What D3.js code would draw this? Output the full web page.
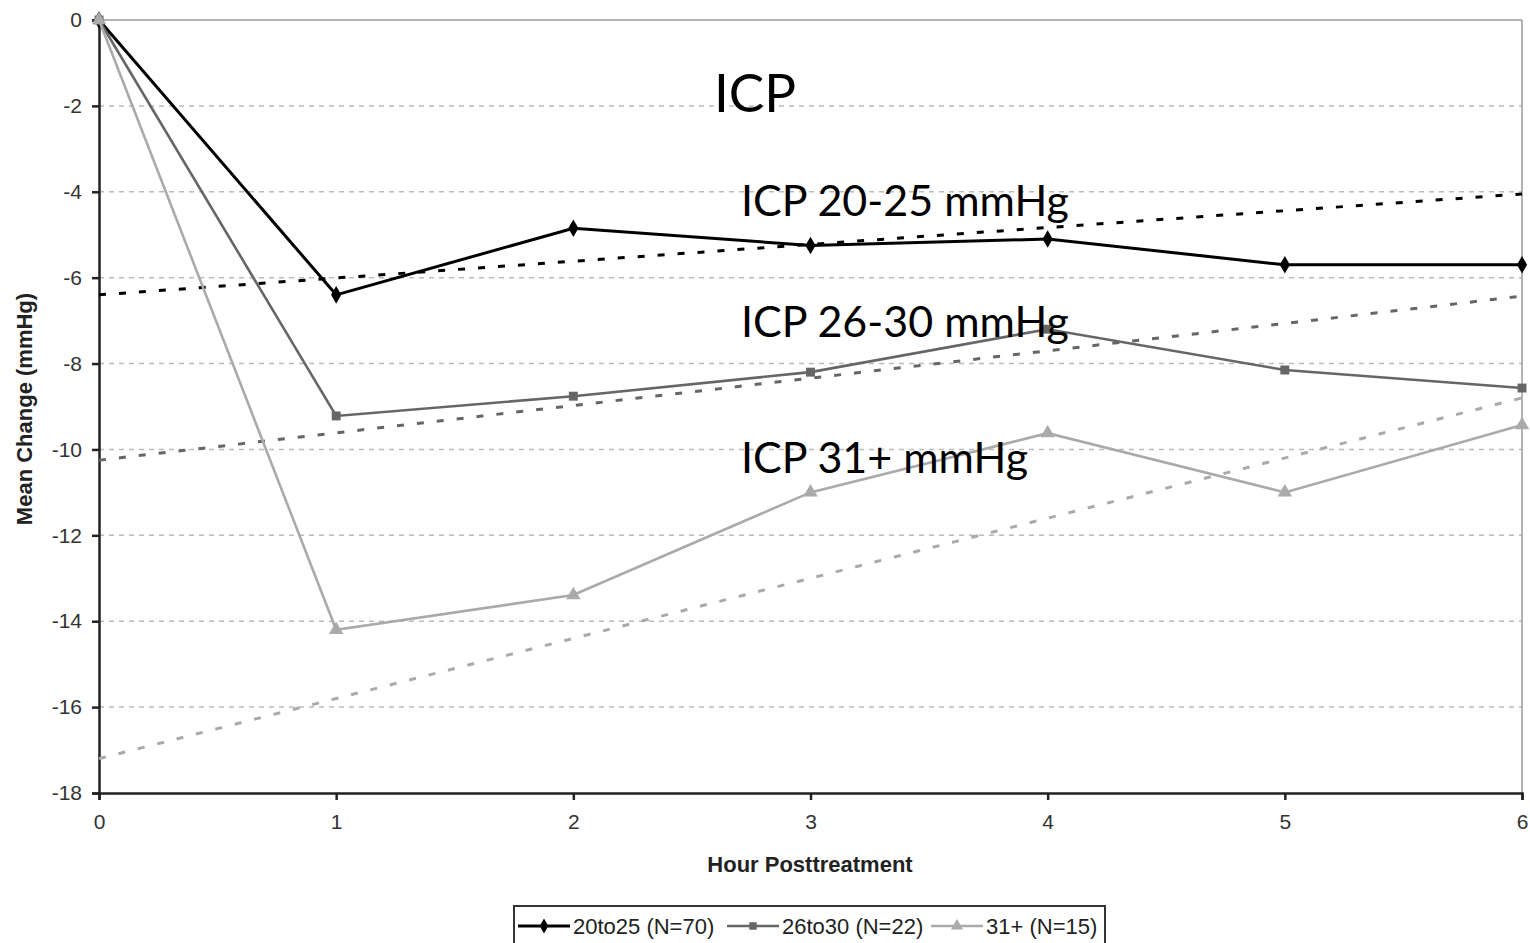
<!DOCTYPE html>
<head>
  <meta charset="utf-8">
  <script src="https://d3js.org/d3.v7.min.js"></script>
  <style>
body { margin: 0; background: #fff; }
.tick text { font-family: Arial, "Liberation Sans", sans-serif; font-size: 21px; fill: #333; }
.axis-title { font-family: Arial, "Liberation Sans", sans-serif; font-size: 22px; font-weight: 700; fill: #222; }
.note { font-family: Lato, "Open Sans", sans-serif; fill: #000; }
.legend text { font-family: Arial, "Liberation Sans", sans-serif; font-size: 22px; fill: #222; }
  </style>
</head>
<body>
<script>
// data
var hours = [0, 1, 2, 3, 4, 5, 6];
var yTicks = [0, -2, -4, -6, -8, -10, -12, -14, -16, -18];
var icp20to25 = [0, -6.4, -4.85, -5.25, -5.1, -5.7, -5.7];
var icp26to30 = [0, -9.22, -8.76, -8.2, -7.2, -8.15, -8.57];
var icp31plus = [0, -14.2, -13.39, -11.0, -9.62, -11.0, -9.43];
// linear trend lines, value at hour 0 and hour 6
var trendHours = [0, 6];
var trend20to25 = [-6.4, -4.05];
var trend26to30 = [-10.25, -6.43];
var trend31plus = [-17.2, -8.8];
var seriesNames = ["20to25 (N=70)", "26to30 (N=22)", "31+ (N=15)"];

var series = [
  {name: seriesNames[0], values: icp20to25, trend: trend20to25, color: "#000", width: 3, shape: d3.symbolDiamond, size: 90},
  {name: seriesNames[1], values: icp26to30, trend: trend26to30, color: "#666", width: 2.6, shape: d3.symbolSquare, size: 80},
  {name: seriesNames[2], values: icp31plus, trend: trend31plus, color: "#aaa", width: 2.6, shape: d3.symbolTriangle, size: 90}
];

var svg = d3.select("body").append("svg")
  .attr("width", 1530)
  .attr("height", 943);

var x = d3.scaleLinear().domain([0, 6]).range([99, 1522]);
var y = d3.scaleLinear().domain([-18, 0]).range([793, 20]);

// gridlines
svg.append("g").selectAll("line")
  .data(yTicks.filter(function(d) { return d < 0 && d > -18; }))
  .enter().append("line")
  .attr("x1", x(0)).attr("x2", x(6))
  .attr("y1", d => y(d)).attr("y2", d => y(d))
  .attr("stroke", "#bbb")
  .attr("stroke-width", 1.5)
  .attr("stroke-dasharray", "5,5");

// top and right frame
svg.append("line").attr("x1", x(0)).attr("x2", x(6)).attr("y1", y(0)).attr("y2", y(0))
  .attr("stroke", "#999").attr("stroke-width", 1.5);
svg.append("line").attr("x1", x(6)).attr("x2", x(6)).attr("y1", y(0)).attr("y2", y(-18))
  .attr("stroke", "#999").attr("stroke-width", 1.5);

// axes
var yAxis = svg.append("g")
  .attr("transform", "translate(" + x(0) + ",0)")
  .call(d3.axisLeft(y).tickValues(yTicks).tickSize(7).tickPadding(10).tickFormat(d3.format("d")));
var xAxis = svg.append("g")
  .attr("transform", "translate(0," + y(-18) + ")")
  .call(d3.axisBottom(x).tickValues(hours).tickSize(7).tickPadding(14).tickFormat(d3.format("d")));
[yAxis, xAxis].forEach(function(a) {
  a.select(".domain").attr("stroke", "#222").attr("stroke-width", 2.5);
  a.selectAll(".tick line").attr("stroke", "#222").attr("stroke-width", 2.5);
});
yAxis.selectAll(".tick text").text(function(d) { return d === 0 ? "0" : String(d).replace("−", "-"); });

// trend lines
var trendLine = d3.line().x((d, i) => x(trendHours[i])).y(d => y(d));
svg.append("g").selectAll("path")
  .data(series)
  .enter().append("path")
  .attr("d", d => trendLine(d.trend))
  .attr("fill", "none")
  .attr("stroke", d => d.color)
  .attr("stroke-width", 3)
  .attr("stroke-dasharray", "7,13");

// series lines
var line = d3.line().x((d, i) => x(hours[i])).y(d => y(d));
var g = svg.append("g").selectAll("g")
  .data(series)
  .enter().append("g");
g.append("path")
  .attr("d", d => line(d.values))
  .attr("fill", "none")
  .attr("stroke", d => d.color)
  .attr("stroke-width", d => d.width);
g.each(function(s) {
  d3.select(this).selectAll("path.mark")
    .data(s.values)
    .enter().append("path")
    .attr("class", "mark")
    .attr("d", d3.symbol().type(s.shape).size(s.size))
    .attr("transform", (d, i) => "translate(" + x(hours[i]) + "," + y(d) + ")")
    .attr("fill", s.color);
});

// axis titles
svg.append("text").attr("class", "axis-title")
  .attr("x", 810).attr("y", 872)
  .attr("text-anchor", "middle")
  .text("Hour Posttreatment");
svg.append("text").attr("class", "axis-title")
  .attr("transform", "translate(32,409) rotate(-90)")
  .attr("text-anchor", "middle")
  .text("Mean Change (mmHg)");

// annotations
svg.append("text").attr("class", "note").attr("x", 714).attr("y", 112)
  .style("font-size", "53px").text("ICP");
var notes = [["ICP 20-25 mmHg", 216], ["ICP 26-30 mmHg", 337], ["ICP 31+ mmHg", 473]];
svg.selectAll("text.sub")
  .data(notes)
  .enter().append("text")
  .attr("class", "note sub")
  .attr("x", 741).attr("y", d => d[1])
  .style("font-size", "43px")
  .text(d => d[0]);

// legend
var legend = svg.append("g").attr("class", "legend");
legend.append("rect")
  .attr("x", 514).attr("y", 906).attr("width", 591).attr("height", 50)
  .attr("fill", "#fff").attr("stroke", "#333").attr("stroke-width", 2);
var legendX = [518, 727, 931];
var item = legend.selectAll("g.item")
  .data(series)
  .enter().append("g")
  .attr("class", "item")
  .attr("transform", (d, i) => "translate(" + legendX[i] + ",926)");
item.append("line")
  .attr("x1", 0).attr("x2", 52)
  .attr("stroke", d => d.color).attr("stroke-width", d => d.width);
item.append("path")
  .attr("d", d => d3.symbol().type(d.shape).size(d.size * 0.7)())
  .attr("transform", "translate(26,0)")
  .attr("fill", d => d.color);
item.append("text")
  .attr("x", 55).attr("y", 8)
  .text(d => d.name);
</script>
</body>
